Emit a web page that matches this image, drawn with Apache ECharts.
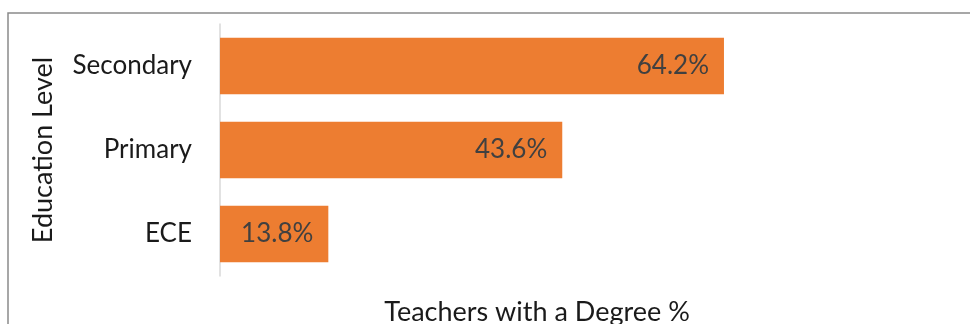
<!DOCTYPE html>
<html>
<head>
<meta charset="utf-8">
<script src="https://cdn.jsdelivr.net/npm/echarts@6/dist/echarts.min.js"></script>
<style>
  html, body { margin: 0; padding: 0; background: #fff; }
  #chart { width: 970px; height: 324px; }
</style>
</head>
<body>
<div id="chart"></div>
<script>
// Education levels, bottom to top
var levels = ['ECE', 'Primary', 'Secondary'];
// Share of teachers holding a degree (%)
var degreeShare = [13.8, 43.6, 64.2];
var valueAxisTitle = 'Teachers with a Degree %';
var categoryAxisTitle = 'Education Level';

var FONT = 'Lato, "Noto Sans", sans-serif';

var chart = echarts.init(document.getElementById('chart'), null, { renderer: 'canvas' });

chart.setOption({
  animation: false,
  backgroundColor: '#ffffff',
  grid: {
    left: 220, top: 24, width: 785, height: 252,
    containLabel: false,
    outerBoundsMode: 'none'
  },
  xAxis: {
    type: 'value',
    min: 0,
    max: 100,
    show: false
  },
  yAxis: {
    type: 'category',
    data: levels,
    name: categoryAxisTitle,
    nameLocation: 'middle',
    nameRotate: 90,
    nameGap: 163,
    nameTextStyle: { fontFamily: FONT, fontSize: 27, color: '#1a1a1a' },
    axisLine: { show: true, lineStyle: { color: '#d9d9d9', width: 1.5 } },
    axisTick: { show: false },
    axisLabel: { fontFamily: FONT, fontSize: 26, color: '#1a1a1a', margin: 28 },
    splitLine: { show: false }
  },
  series: [{
    type: 'bar',
    data: degreeShare,
    barCategoryGap: '33%',
    itemStyle: { color: '#ed7d31' },
    label: {
      show: true,
      position: 'insideRight',
      distance: 15,
      formatter: function (p) { return p.value.toFixed(1) + '%'; },
      fontFamily: FONT,
      fontSize: 26,
      color: '#404040'
    }
  }],
  graphic: [
    {
      type: 'rect',
      shape: { x: 8, y: 13, width: 1000, height: 400 },
      style: { fill: 'none', stroke: '#8a8a8a', lineWidth: 1.5 },
      silent: true
    },
    {
      type: 'text',
      x: 537,
      y: 312,
      style: {
        text: valueAxisTitle,
        fontFamily: FONT,
        fontSize: 27,
        fill: '#1a1a1a',
        align: 'center',
        verticalAlign: 'middle'
      }
    }
  ]
});
</script>
</body>
</html>
